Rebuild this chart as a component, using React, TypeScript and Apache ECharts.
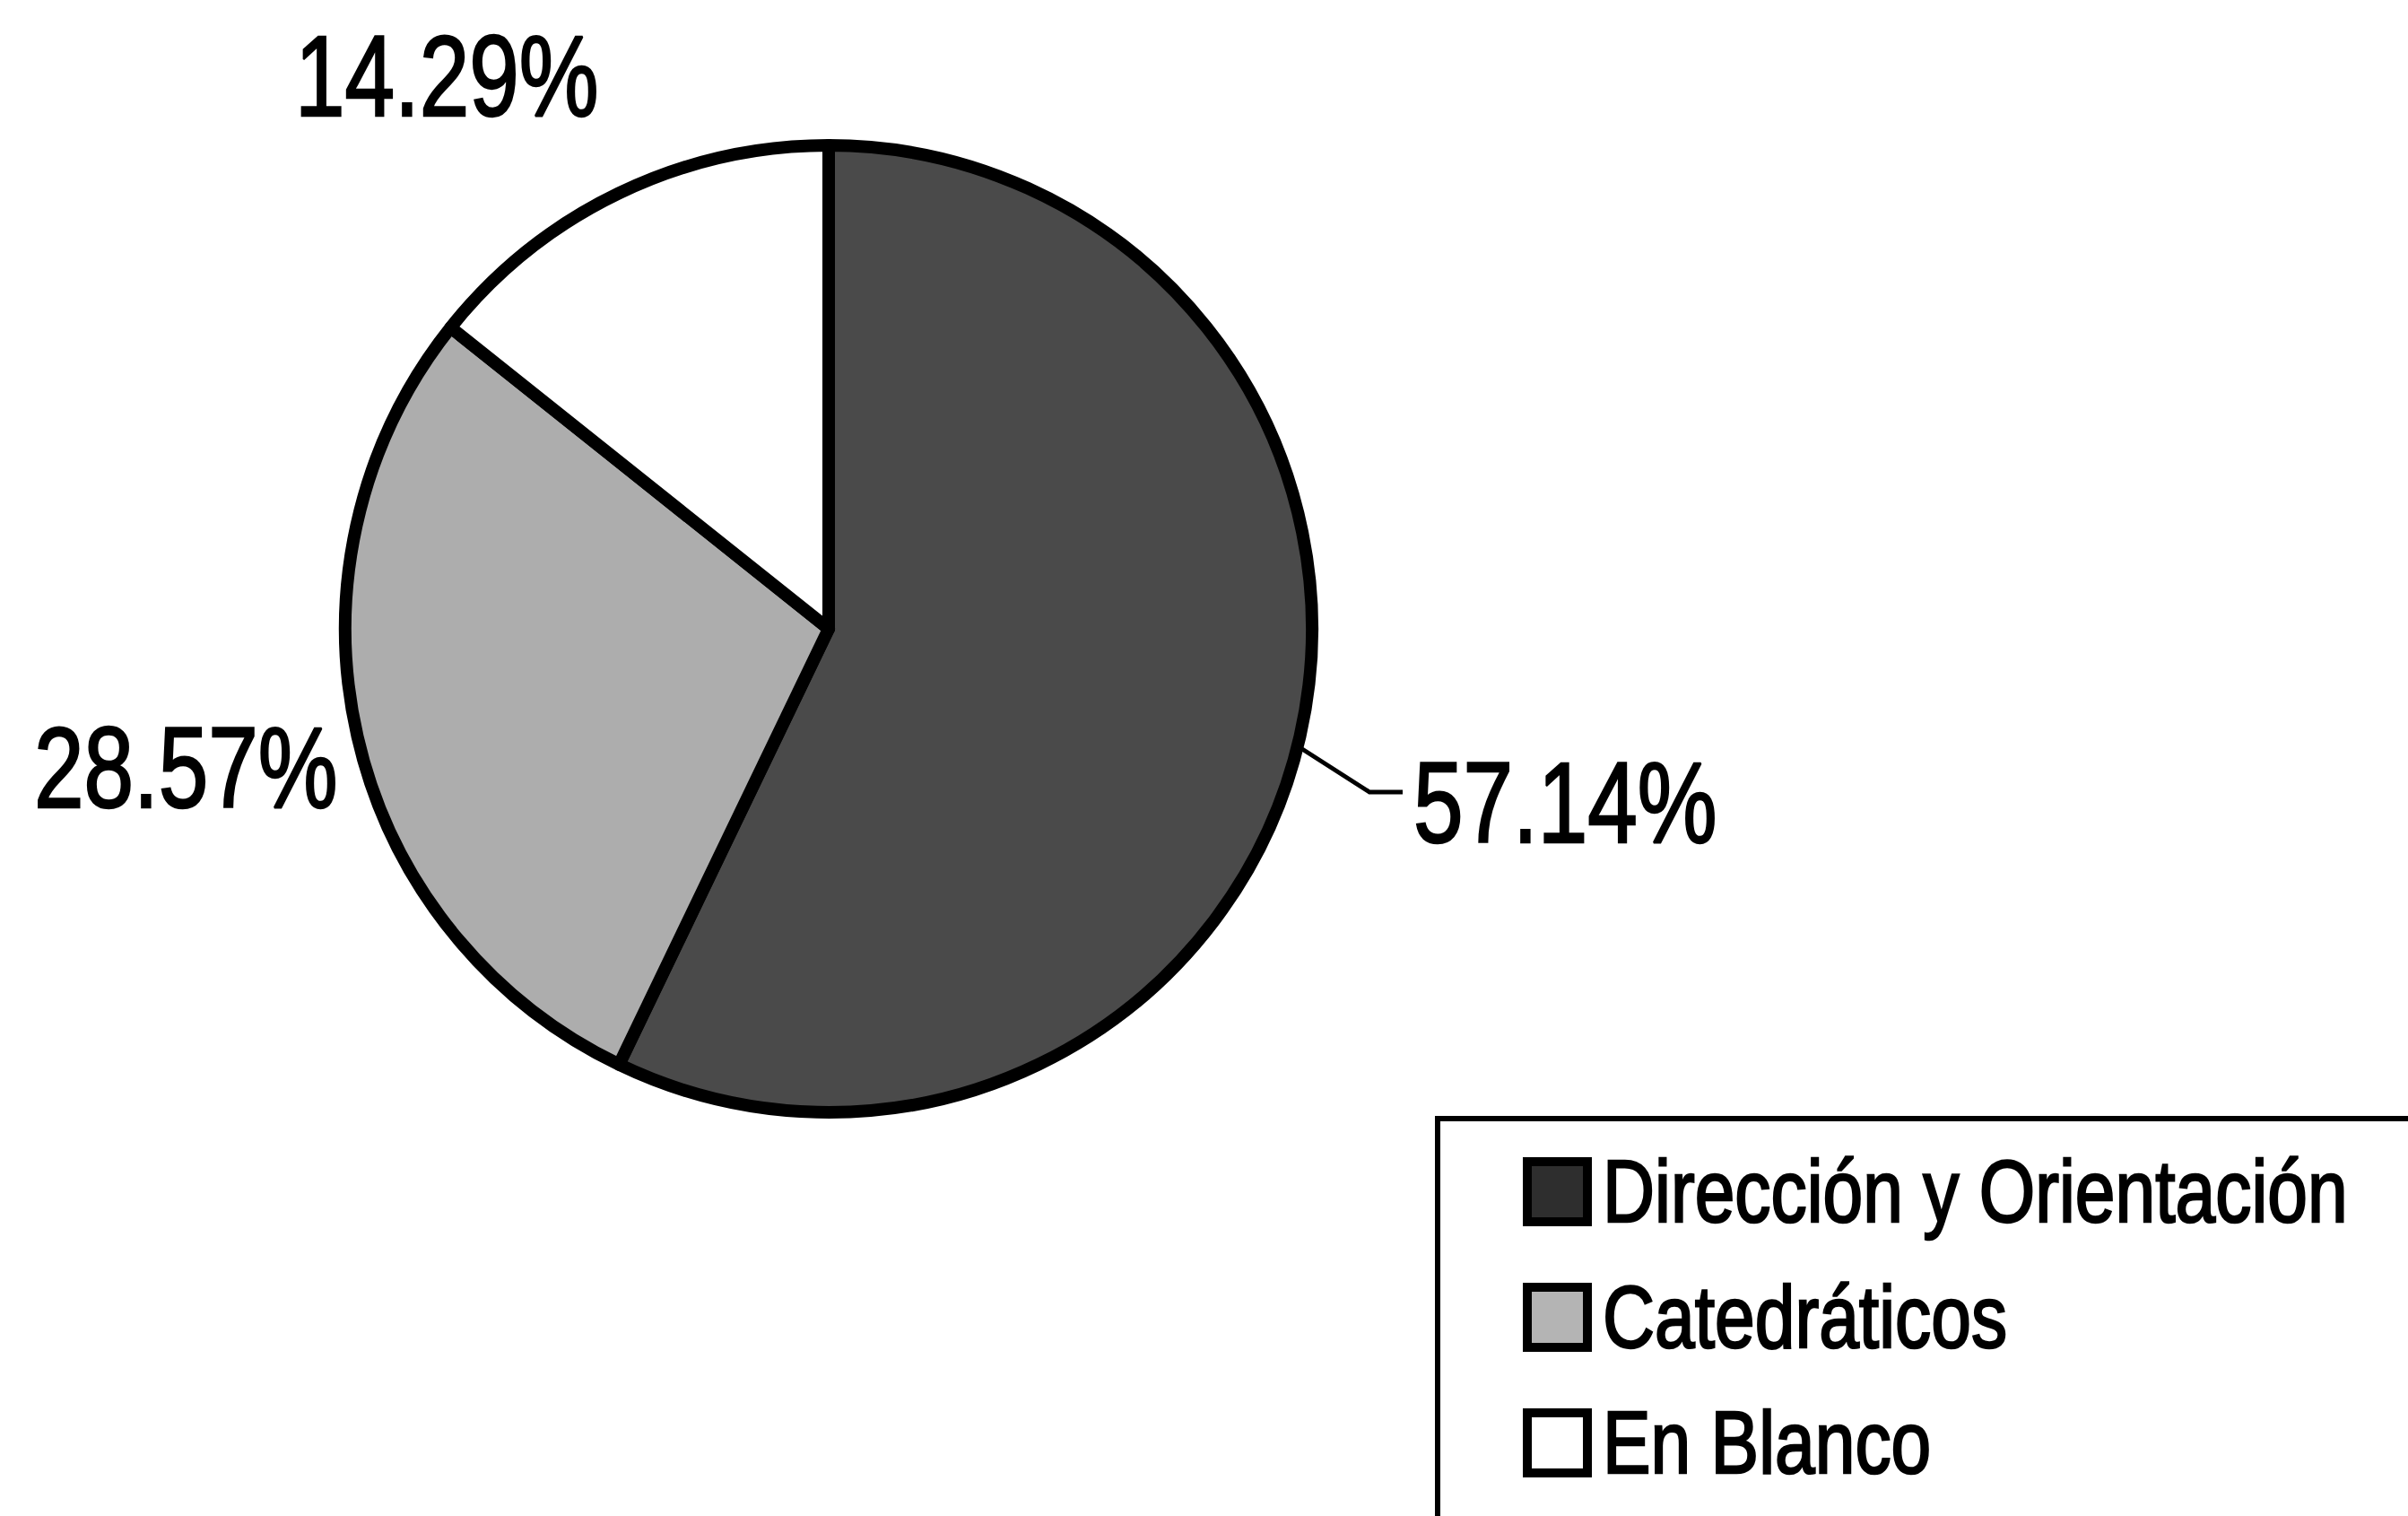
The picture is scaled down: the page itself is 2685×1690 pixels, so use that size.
import React, { useEffect, useRef } from "react";
import * as echarts from "echarts";

const categories = ["Dirección y Orientación", "Catedráticos", "En Blanco"];
const percentages = [57.14, 28.57, 14.29];
const sliceColors = ["#4a4a4a", "#adadad", "#ffffff"];
const legendIconColors = ["#2e2e2e", "#b4b4b4", "#ffffff"];

const FONT = "'Liberation Sans', Arial, sans-serif";

export default function App() {
  const ref = useRef<HTMLDivElement>(null);
  useEffect(() => {
    if (!ref.current) return;
    const chart = echarts.init(ref.current, undefined, { renderer: "svg" });

    // Pie-label anchor points (left edge, vertical middle) for each slice.
    const labelAnchors = [
      { x: 1576, y: 894 },
      { x: 38, y: 855 },
      { x: 329, y: 84 },
    ];
    const labelScaleX = 0.78;
    const labelFontSize = 128;

    const labelTexts = percentages.map((v, i) => ({
      type: "text",
      x: labelAnchors[i].x,
      y: labelAnchors[i].y,
      scaleX: labelScaleX,
      z: 10,
      style: {
        text: `${v.toFixed(2)}%`,
        x: 0,
        y: 0,
        fill: "#000000",
        stroke: "#000000",
        lineWidth: 2.5,
        font: `normal ${labelFontSize}px ${FONT}`,
        textAlign: "left",
        textVerticalAlign: "middle",
      },
    }));

    const labelLine = {
      type: "polyline",
      z: 10,
      shape: { points: [[1452, 835], [1527, 883], [1564, 883]] },
      style: { stroke: "#000000", lineWidth: 5, fill: "none" },
    };

    // Legend
    const legendLeft = 1603;
    const legendTop = 1247;
    const iconLeft = 1698;
    const iconTop0 = 1290;
    const iconSize = 77;
    const iconStroke = 10;
    const rowStep = 140;
    const legendFont = 98;
    const legendScaleX = 0.82;

    const legendBox = {
      type: "rect",
      z: 5,
      shape: { x: legendLeft, y: legendTop, width: 1200, height: 600 },
      style: { fill: "#ffffff", stroke: "#000000", lineWidth: 6 },
    };

    const legendItems: any[] = [];
    categories.forEach((name, i) => {
      const top = iconTop0 + i * rowStep;
      legendItems.push({
        type: "rect",
        z: 6,
        shape: {
          x: iconLeft + iconStroke / 2,
          y: top + iconStroke / 2,
          width: iconSize - iconStroke,
          height: iconSize - iconStroke,
        },
        style: { fill: legendIconColors[i], stroke: "#000000", lineWidth: iconStroke },
      });
      legendItems.push({
        type: "text",
        z: 6,
        x: iconLeft + iconSize + 12,
        y: top + iconSize / 2,
        scaleX: legendScaleX,
        style: {
          text: name,
          x: 0,
          y: 0,
          fill: "#000000",
          stroke: "#000000",
          lineWidth: 2.5,
          font: `normal ${legendFont}px ${FONT}`,
          textAlign: "left",
          textVerticalAlign: "middle",
        },
      });
    });

    chart.setOption({
      animation: false,
      backgroundColor: "#ffffff",
      graphic: [labelLine, ...labelTexts, legendBox, ...legendItems],
      series: [
        {
          type: "pie",
          center: [924, 701],
          radius: 539,
          startAngle: 90,
          clockwise: true,
          avoidLabelOverlap: false,
          itemStyle: { borderColor: "#000000", borderWidth: 14 },
          emphasis: { disabled: true },
          label: { show: false },
          labelLine: { show: false },
          data: categories.map((name, i) => ({
            name,
            value: percentages[i],
            itemStyle: { color: sliceColors[i] },
          })),
        },
      ],
    });
    return () => chart.dispose();
  }, []);
  return (
    <div
      ref={ref}
      style={{ position: "fixed", left: 0, top: 0, width: 2685, height: 1690 }}
    />
  );
}
